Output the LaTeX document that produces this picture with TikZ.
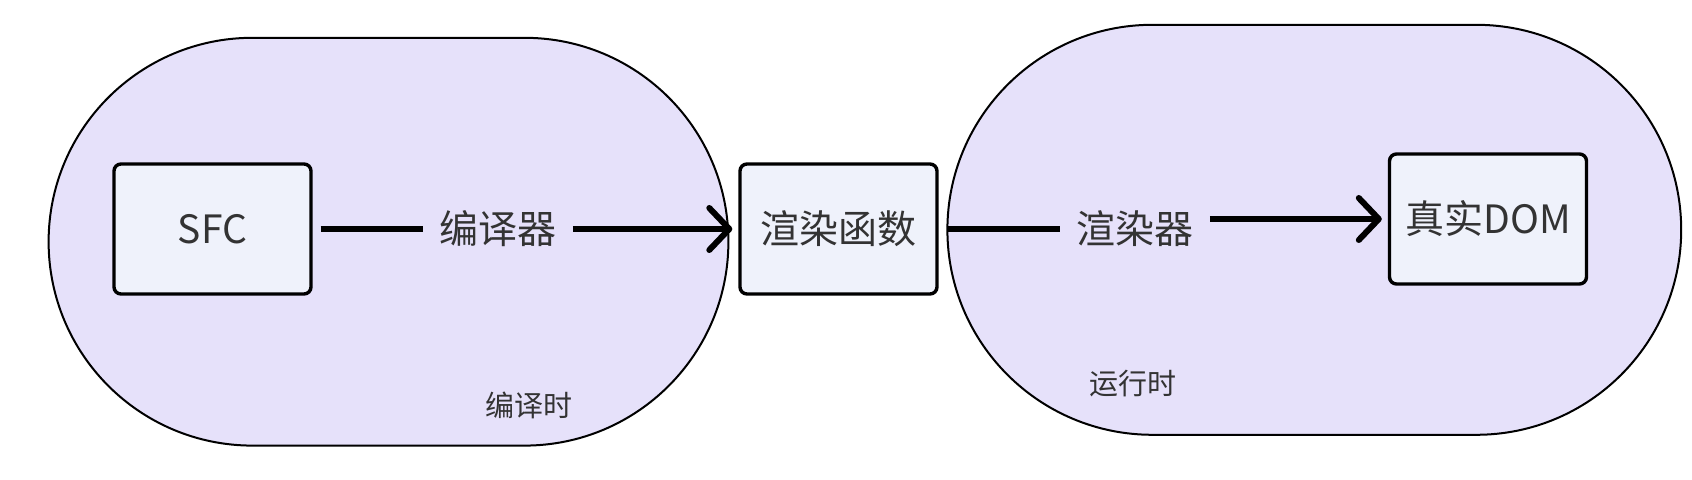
\documentclass[tikz,border=0pt]{standalone}
\usepackage{fontspec}
\setmainfont{Noto Sans CJK SC}
\usetikzlibrary{positioning,arrows.meta,shapes.misc}
\definecolor{phasefill}{RGB}{230,225,250}
\definecolor{boxfill}{RGB}{239,242,251}
\definecolor{txt}{RGB}{51,51,51}
\tikzstyle{phase} = [draw, rounded rectangle, fill=phasefill, line width=1pt, inner sep=0pt]
\tikzstyle{block} = [draw, rectangle, rounded corners=3.5pt, fill=boxfill, line width=1.7pt, minimum width=98.5pt, minimum height=65pt, text=txt, font=\fontsize{19.5}{22}\selectfont]
\tikzstyle{lbl} = [inner sep=8pt, text=txt, font=\fontsize{19.5}{22}\selectfont]
\tikzstyle{phaselbl} = [inner sep=0pt, text=txt, font=\fontsize{14.5}{17}\selectfont]
\tikzstyle{link} = [line width=3pt, shorten <=4pt]
\tikzstyle{to} = [-{Straight Barb[length=10pt,width=21pt,round]}, line width=3pt, shorten >=3pt]

\begin{document}
\begin{tikzpicture}[x=0.5pt, y=-0.5pt]
		\useasboundingbox (0,0) rectangle (1692,480);
		% compile time / run time
		\node (ct) [phase, minimum width=339.9pt, minimum height=203.9pt] at (388.5,241.7) {};
		\node (rt) [phase, minimum width=366.9pt, minimum height=205pt] at (1314.3,229.8) {};
		\node (ctl) [phaselbl] at (529,405) {编译时};
		\node (rtl) [phaselbl] at (1133,384) {运行时};
		% steps
		\node (sfc) [block] at (212.5,229) {SFC};
		\node (rf) [block] at (838.5,229) {渲染函数};
		\node (dom) [block] at (1488,219) {真实DOM};
		\node (c1) [lbl] at (498,229) {编译器};
		\node (c2) [lbl] at (1135,229) {渲染器};
		\draw[link] (sfc) -- (c1);
		\draw[to] (c1) -- (rf);
		\draw[link] (rf) -- (c2);
		\draw[to] (c2.east |- dom.west) -- (dom.west);
\end{tikzpicture}
\end{document}
